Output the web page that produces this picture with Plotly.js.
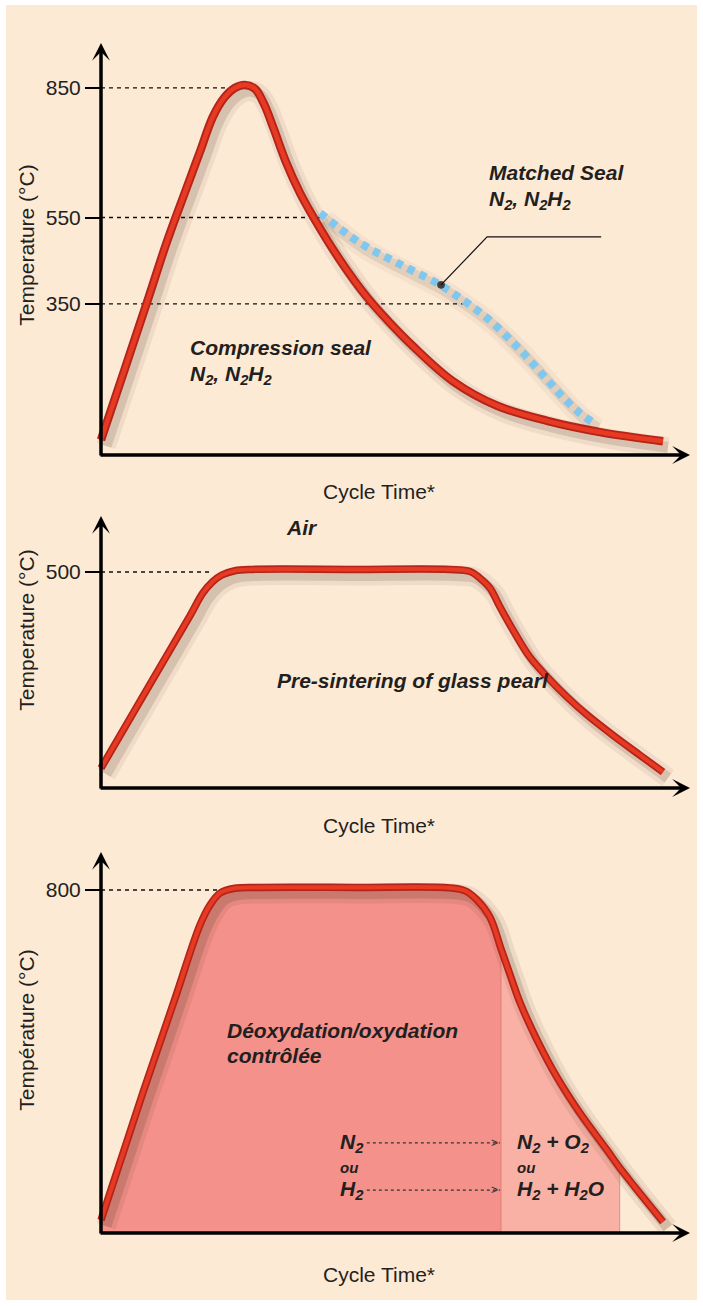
<!DOCTYPE html>
<html>
<head>
<meta charset="utf-8">
<script src="https://cdn.plot.ly/plotly-3.0.1.min.js"></script>
<style>html,body{margin:0;padding:0;background:#fff;}#chart{width:703px;height:1306px;}</style>
</head>
<body>
<div id="chart"></div>
<script>
// ---------- DATA (schematic values) ----------
// Panel 1: compression seal curve (time units, °C)
const t1 = [0,4.3,8.4,11.7,15.3,17.6,19.9,21.9,23.8,25.6,27.4,29.0,30.8,32.9,35.4,38.1,42.5,47.3,51.4,55.5,62.6,70.5,79.4,88.8,100];
const v1 = [35,202,362,493,621,702,783,827,850,857,848,813,753,679,607,544,452,366,306,252,171,114,79,53,32];
// Panel 1: matched seal branch (dotted blue)
const tBlue = [39.0,46.1,52.7,59.8,62.6,68.7,74.6,79.4,82.2,85.2,87.5];
const vBlue = [560,491,445,398,375,317,243,174,134,97,76];
// Panel 2: pre-sintering curve
const t2 = [0,5.2,10.5,15.8,18.1,19.8,21.5,23.8,27,45,62.0,65.7,67.4,69.2,71.0,73.3,76.3,79.4,82.9,86.5,91.1,95.9,100];
const v2 = [46,162,280,398,451,477,493,503,506,506,506,501,486,463,419,366,303,257,211,169,122,76,37];
// Panel 3: deoxidation / controlled oxidation curve
const t3 = [0,7.5,13.2,17.6,19.4,21.2,23.8,28.3,45,62.1,64.8,66.9,69.2,71.2,72.8,74.6,77.6,81.1,85.2,90.0,92.3,95.0,100];
const v3 = [30,329,548,718,765,793,804,806,806,805,798,777,737,662,602,536,450,364,280,194,152,107,26];
const splitA = 13;   // index where N2/H2 zone ends (t = 71.2)
const splitB = 20;   // index where the oxidising zone ends (t = 92.3)
// Tick values / labels
const ticks1 = [850,550,350];
const ticks2 = [500];
const ticks3 = [800];
const dashEnd1 = [23,39,65];     // where the dashed guide lines meet the curves
const dashEnd2 = [19.5];
const dashEnd3 = [21];
// Leader line for the matched-seal label
const leaderT = [60.5,68.7,89.0];
const leaderV = [394,505,505];
// Gas arrow levels (panel 3)
const gasT = [47.3,71.0];
const gasLevels = [210,100];

// ---------- LAYOUT GEOMETRY ----------
const W = 703, H = 1306;
const pxPerT = 5.62, t0px = 101;
const xDomL = 55;
const xRange = [(xDomL - t0px)/pxPerT, (W - t0px)/pxPerT];
const panels = [
  {top:35,  bottom:455,  k:0.4318, tip:43},
  {top:472, bottom:788,  k:0.432,  tip:516},
  {top:827, bottom:1233, k:0.42875, tip:852}
];
const yf = p => 1 - p/H;
const shDx = 5, shDy = 6;
const FONT = 'Liberation Sans, Arial, Helvetica, sans-serif';
const TXT = '#231F20';

function yDom(p){ return [yf(p.bottom), yf(p.top)]; }
function yRng(p, shift){ const d = shift ? shDy/p.k : 0; return [0 + d, (p.bottom - p.top)/p.k + d]; }
function xRng(shift){ const d = shift ? shDx/pxPerT : 0; return [xRange[0]-d, xRange[1]-d]; }

const hidden = {visible:false, showgrid:false, zeroline:false};
const layout = {
  width: W, height: H,
  margin: {l:0,r:0,t:0,b:0,pad:0},
  paper_bgcolor: '#FFFFFF',
  plot_bgcolor: 'rgba(0,0,0,0)',
  showlegend: false,
  font: {family: FONT, color: TXT},
  xaxis:  Object.assign({domain:[xDomL/W,1], range:xRng(true),  anchor:'y'}, hidden),
  yaxis:  Object.assign({domain:yDom(panels[0]), range:yRng(panels[0],true), anchor:'x'}, hidden),
  xaxis2: Object.assign({domain:[xDomL/W,1], range:xRng(true),  anchor:'y2'}, hidden),
  yaxis2: Object.assign({domain:yDom(panels[1]), range:yRng(panels[1],true), anchor:'x2'}, hidden),
  xaxis3: Object.assign({domain:[xDomL/W,1], range:xRng(false), anchor:'y3'}, hidden),
  yaxis3: Object.assign({domain:yDom(panels[2]), range:yRng(panels[2],false), anchor:'x3'}, hidden),
  xaxis4: Object.assign({domain:[xDomL/W,1], range:xRng(true),  anchor:'y4'}, hidden),
  yaxis4: Object.assign({domain:yDom(panels[2]), range:yRng(panels[2],true), anchor:'x4'}, hidden),
  shapes: [], annotations: []
};

function mainX(anchor, standoff){
  return {domain:[xDomL/W,1], range:xRng(false), anchor:anchor,
    showgrid:false, zeroline:false, showline:false, ticks:'', showticklabels:false,
    title:{text:'Cycle Time*', font:{size:21, family:FONT, color:TXT}, standoff:standoff}};
}
function mainY(p, tv, title){
  return {domain:yDom(p), range:yRng(p,false), anchor:'free', position:t0px/W,
    showgrid:false, zeroline:false, showline:false,
    ticks:'outside', ticklen:16, tickwidth:2, tickcolor:'#000',
    tickvals:tv, ticktext:tv.map(String),
    tickfont:{size:21, family:FONT, color:TXT},
    title:{text:title, font:{size:21, family:FONT, color:TXT}, standoff:4}};
}
layout.xaxis5 = mainX('y5', 29);
layout.yaxis5 = mainY(panels[0], ticks1, 'Temperature (°C)');
layout.xaxis6 = mainX('y6', 30);
layout.yaxis6 = mainY(panels[1], ticks2, 'Temperature (°C)');
layout.xaxis7 = mainX('y7', 34);
layout.yaxis7 = mainY(panels[2], ticks3, 'Température (°C)');

// cream background card
layout.shapes.push({type:'rect', xref:'paper', yref:'paper', x0:6/W, x1:697/W, y0:yf(1300), y1:yf(5),
  fillcolor:'#FDEAD5', line:{width:0}, layer:'below'});

// dashed guide lines
function dashes(tv, ends, xr, yr){
  tv.forEach((v,i)=>layout.shapes.push({type:'line', xref:xr, yref:yr, x0:0, x1:ends[i], y0:v, y1:v,
    line:{color:'#111', width:1.3, dash:'4px,4px'}, layer:'below'}));
}
dashes(ticks1, dashEnd1, 'x5','y5');
dashes(ticks2, dashEnd2, 'x6','y6');
dashes(ticks3, dashEnd3, 'x7','y7');

// axis arrows
function axisArrows(xr, yr, p){
  const yTip = (p.bottom - p.tip)/p.k;
  const tail = -2/p.k;
  layout.annotations.push({xref:xr, yref:yr, axref:xr, ayref:yr, x:0, y:yTip, ax:0, ay:tail,
    text:'', showarrow:true, arrowhead:3, arrowsize:0.85, arrowwidth:3.5, arrowcolor:'#000'});
  layout.annotations.push({xref:xr, yref:yr, axref:xr, ayref:yr, x:(690-t0px)/pxPerT, y:0, ax:-2/pxPerT, ay:0,
    text:'', showarrow:true, arrowhead:3, arrowsize:0.85, arrowwidth:3.5, arrowcolor:'#000'});
}
axisArrows('x5','y5',panels[0]);
axisArrows('x6','y6',panels[1]);
axisArrows('x7','y7',panels[2]);

// texts
const bi = (size)=>({size:size, family:FONT, color:TXT, weight:700, style:'italic'});
function txt(xr, yr, x, y, text, anchor, size){
  layout.annotations.push({xref:xr, yref:yr, x:x, y:y, text:text, showarrow:false,
    xanchor:anchor||'left', yanchor:'middle', font:bi(size||21)});
}
const N2N2H2 = 'N<sub>2</sub>, N<sub>2</sub>H<sub>2</sub>';
txt('x5','y5',68.7,655,'Matched Seal');
txt('x5','y5',68.7,590,N2N2H2);
txt('x5','y5',15.5,248,'Compression seal');
txt('x5','y5',15.5,185,N2N2H2);
txt('x6','y6',35.8,604,'Air','center');
txt('x6','y6',55.5,250,'Pre-sintering of glass pearl','center');
txt('x7','y7',22.1,473,'Déoxydation/oxydation');
txt('x7','y7',22.1,414,'contrôlée');
txt('x7','y7',42.2,gasLevels[0],'N<sub>2</sub>');
txt('x7','y7',42.2,153,'ou','left',15);
txt('x7','y7',42.2,gasLevels[1],'H<sub>2</sub>');
txt('x7','y7',73.7,gasLevels[0],'N<sub>2</sub> + O<sub>2</sub>');
txt('x7','y7',73.7,153,'ou','left',15);
txt('x7','y7',73.7,gasLevels[1],'H<sub>2</sub> + H<sub>2</sub>O');
gasLevels.forEach(v=>layout.annotations.push({xref:'x7', yref:'y7', x:gasT[1], y:v, text:'>',
  showarrow:false, xanchor:'right', yanchor:'middle', font:{size:12, family:FONT, color:'#333'}}));

// separators in the fill
layout.shapes.push({type:'line', xref:'x7', yref:'y7', x0:t3[splitA], x1:t3[splitA], y0:0, y1:v3[splitA],
  line:{color:'rgba(185,105,100,0.55)', width:1}, layer:'below'});
layout.shapes.push({type:'line', xref:'x7', yref:'y7', x0:t3[splitB], x1:t3[splitB], y0:0, y1:v3[splitB],
  line:{color:'rgba(160,130,120,0.6)', width:1}, layer:'below'});

// ---------- TRACES ----------
const traces = [];
const sp = {shape:'spline', smoothing:1};
function shadow(t, v, xa, ya, a){
  traces.push({x:t, y:v, xaxis:xa, yaxis:ya, mode:'lines', hoverinfo:'skip',
    line:Object.assign({color:'rgba(70,45,25,'+(a*0.5)+')', width:20}, sp)});
  traces.push({x:t, y:v, xaxis:xa, yaxis:ya, mode:'lines', hoverinfo:'skip',
    line:Object.assign({color:'rgba(70,45,25,'+a+')', width:11}, sp)});
}
function tube(t, v, xa, ya, w){
  traces.push({x:t, y:v, xaxis:xa, yaxis:ya, mode:'lines', hoverinfo:'skip',
    line:Object.assign({color:'#B5231A', width:w}, sp)});
  traces.push({x:t, y:v, xaxis:xa, yaxis:ya, mode:'lines', hoverinfo:'skip',
    line:Object.assign({color:'#E63A22', width:w*0.55}, sp)});
}
shadow(t1, v1, 'x', 'y', 0.15);
shadow(tBlue, vBlue, 'x', 'y', 0.10);
shadow(t2, v2, 'x2', 'y2', 0.15);
traces.push({x:t3.slice(0,splitA+1), y:v3.slice(0,splitA+1), xaxis:'x3', yaxis:'y3', mode:'lines',
  fill:'tozeroy', fillcolor:'#F4918A', line:Object.assign({width:0, color:'rgba(0,0,0,0)'}, sp), hoverinfo:'skip'});
traces.push({x:t3.slice(splitA,splitB+1), y:v3.slice(splitA,splitB+1), xaxis:'x3', yaxis:'y3', mode:'lines',
  fill:'tozeroy', fillcolor:'#F9B1A5', line:Object.assign({width:0, color:'rgba(0,0,0,0)'}, sp), hoverinfo:'skip'});
shadow(t3, v3, 'x4', 'y4', 0.17);

tube(t1, v1, 'x5', 'y5', 8.5);
traces.push({x:tBlue, y:vBlue, xaxis:'x5', yaxis:'y5', mode:'lines', hoverinfo:'skip',
  line:Object.assign({color:'#7FC7EE', width:8, dash:'7px,6px'}, sp)});
traces.push({x:leaderT, y:leaderV, xaxis:'x5', yaxis:'y5', mode:'lines+markers', hoverinfo:'skip',
  line:{color:'#111', width:1.2}, marker:{size:[7,0,0], color:'#000'}});
tube(t2, v2, 'x6', 'y6', 7.5);
tube(t3, v3, 'x7', 'y7', 7.5);
gasLevels.forEach(v=>traces.push({x:gasT, y:[v,v], xaxis:'x7', yaxis:'y7', mode:'lines', hoverinfo:'skip',
  line:{color:'#333', width:1.2, dash:'dot'}}));

Plotly.newPlot('chart', traces, layout, {staticPlot:true, displayModeBar:false});
</script>
</body>
</html>
